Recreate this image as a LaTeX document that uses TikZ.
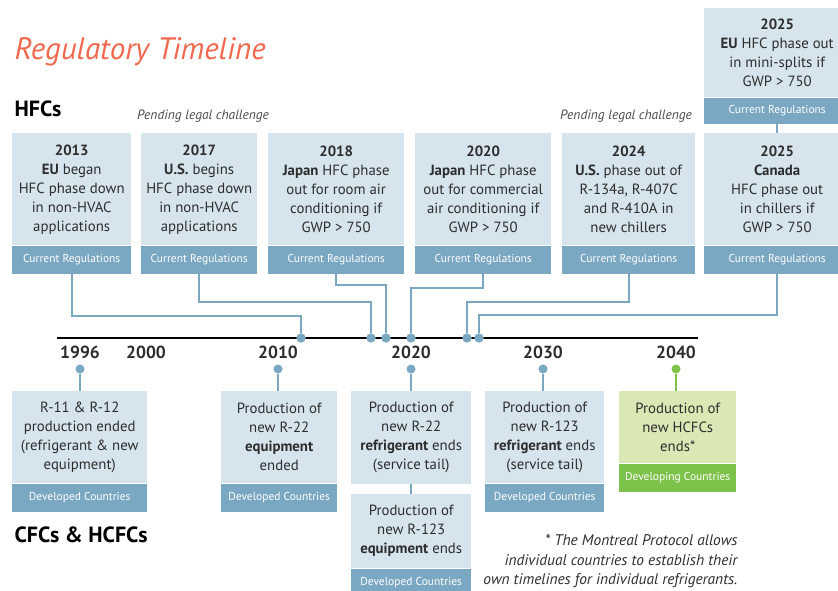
\documentclass[tikz,border=0pt]{standalone}
\usepackage{fontspec}
\setmainfont{PT Sans}
\usetikzlibrary{positioning}

\definecolor{boxbg}{RGB}{214,228,238}
\definecolor{stripbg}{RGB}{122,167,194}
\definecolor{greenbg}{RGB}{217,232,180}
\definecolor{greenstrip}{RGB}{125,194,75}
\definecolor{titlecol}{RGB}{240,104,78}
\definecolor{txt}{RGB}{45,45,45}

\tikzset{
  lbox/.style={fill=boxbg, anchor=north west, align=center, inner sep=0pt, text=txt,
    font=\fontsize{14.8}{19}\selectfont},
  strip/.style={fill=stripbg, anchor=north, inner sep=0pt, minimum height=28, text=white,
    font=\fontsize{11.5}{13}\selectfont},
  link/.style={draw=stripbg, line width=2},
  dot/.style={circle, fill=stripbg, inner sep=0pt, minimum size=9},
  yr/.style={font=\fontsize{17.5}{20}\selectfont\bfseries, text=txt},
  pend/.style={font=\fontsize{13.5}{15}\selectfont\itshape, text=txt!85},
  head/.style={anchor=west, font=\fontsize{22}{26}\selectfont\bfseries},
}

\begin{document}
\begin{tikzpicture}[x=1pt, y=-1pt]
  \useasboundingbox (0,0) rectangle (838,591);

  % titles
  \node[anchor=west, text=titlecol, font=\fontsize{31}{36}\selectfont\itshape] (title) at (11,52) {Regulatory Timeline};
  \node[head] (hfc) at (11,109) {HFCs};
  \node[head] (cfc) at (11,535) {CFCs \& HCFCs};
  \node[pend] (pend1) at (203,116) {Pending legal challenge};
  \node[pend] (pend2) at (626,116) {Pending legal challenge};

  % HFC boxes
  \node[lbox, minimum width=119, minimum height=112] (h2013) at (12,133)
    {\textbf{2013}\\\textbf{EU} began\\HFC phase down\\in non-HVAC\\applications};
  \node[strip, minimum width=119] (c2013) at (h2013.south) {Current Regulations};

  \node[lbox, minimum width=116, minimum height=112] (h2017) at (141,133)
    {\textbf{2017}\\\textbf{U.S.} begins\\HFC phase down\\in non-HVAC\\applications};
  \node[strip, minimum width=116] (c2017) at (h2017.south) {Current Regulations};

  \node[lbox, minimum width=136, minimum height=112] (h2018) at (268,133)
    {\textbf{2018}\\\textbf{Japan} HFC phase\\out for room air\\conditioning if\\GWP > 750};
  \node[strip, minimum width=136] (c2018) at (h2018.south) {Current Regulations};

  \node[lbox, minimum width=136, minimum height=112] (h2020) at (415,133)
    {\textbf{2020}\\\textbf{Japan} HFC phase\\out for commercial\\air conditioning if\\GWP > 750};
  \node[strip, minimum width=136] (c2020) at (h2020.south) {Current Regulations};

  \node[lbox, minimum width=133, minimum height=112] (h2024) at (562,133)
    {\textbf{2024}\\\textbf{U.S.} phase out of\\R-134a, R-407C\\and R-410A in\\new chillers};
  \node[strip, minimum width=133] (c2024) at (h2024.south) {Current Regulations};

  \node[lbox, minimum width=146, minimum height=112] (h2025c) at (704,133)
    {\textbf{2025}\\\textbf{Canada}\\HFC phase out\\in chillers if\\GWP > 750};
  \node[strip, minimum width=146] (c2025c) at (h2025c.south) {Current Regulations};

  \node[lbox, minimum width=146, minimum height=89] (h2025e) at (704,8)
    {\textbf{2025}\\\textbf{EU} HFC phase out\\in mini-splits if\\GWP > 750};
  \node[strip, minimum width=146, minimum height=26] (c2025e) at (h2025e.south) {Current Regulations};

  \draw[link] (c2025e) -- (h2025c);

  % timeline
  \coordinate (tl0) at (57,338);
  \coordinate (tl1) at (698,338);
  \draw[line width=2] (tl0) -- (tl1);

  \node[yr] (y1996) at (80,352) {1996};
  \node[yr] (y2000) at (146,352) {2000};
  \node[yr] (y2010) at (278,352) {2010};
  \node[yr] (y2020) at (411,352) {2020};
  \node[yr] (y2030) at (543,352) {2030};
  \node[yr] (y2040) at (676,352) {2040};

  % dots on the line
  \node[dot] (t1) at (301,338) {};
  \node[dot] (t2) at (371,338) {};
  \node[dot] (t3) at (386,338) {};
  \node[dot] (t4) at (411,338) {};
  \node[dot] (t5) at (467,338) {};
  \node[dot] (t6) at (479,338) {};

  \draw[link] (c2013.south) -- (c2013.south |- 0,316) -| (t1);
  \draw[link] (c2017.south) -- (c2017.south |- 0,302) -| (t2);
  \draw[link] (c2018.south) -- (c2018.south |- 0,285) -| (t3);
  \draw[link] (c2020.south) -- (c2020.south |- 0,288) -| (t4);
  \draw[link] (c2024.south) -- (c2024.south |- 0,302) -| (t5);
  \draw[link] (c2025c.south) -- (c2025c.south |- 0,315) -| (t6);
  \foreach \d in {t1,t2,t3,t4,t5,t6}
    \node[dot] at (\d) {};

  % CFC / HCFC boxes
  \node[lbox, minimum width=135, minimum height=92] (b1996) at (12,391)
    {R-11 \& R-12\\production ended\\(refrigerant \& new\\equipment)};
  \node[strip, minimum width=135] (s1996) at (b1996.south) {Developed Countries};

  \node[lbox, minimum width=116, minimum height=92] (b2010) at (221,391)
    {Production of\\new R-22\\\textbf{equipment}\\ended};
  \node[strip, minimum width=116] (s2010) at (b2010.south) {Developed Countries};

  \node[lbox, minimum width=120, minimum height=93] (b2020a) at (351,391)
    {Production of\\new R-22\\\textbf{refrigerant} ends\\(service tail)};
  \node[lbox, minimum width=120, minimum height=74] (b2020b) at (351,494)
    {Production of\\new R-123\\\textbf{equipment} ends};
  \node[strip, minimum width=120] (s2020) at (b2020b.south) {Developed Countries};

  \node[lbox, minimum width=119, minimum height=92] (b2030) at (485,391)
    {Production of\\new R-123\\\textbf{refrigerant} ends\\(service tail)};
  \node[strip, minimum width=119] (s2030) at (b2030.south) {Developed Countries};

  \node[lbox, fill=greenbg, minimum width=117, minimum height=72] (b2040) at (619,391)
    {Production of\\new HCFCs\\ends*};
  \node[strip, fill=greenstrip, minimum width=117] (s2040) at (b2040.south) {Developing Countries};

  \node[dot] (u1996) at (80,369) {};
  \node[dot] (u2010) at (278,369) {};
  \node[dot] (u2020) at (411,369) {};
  \node[dot] (u2030) at (543,369) {};
  \node[dot, fill=greenstrip] (u2040) at (676,369) {};

  \draw[link] (u1996) -- (u1996 |- b1996.north);
  \draw[link] (u2010) -- (u2010 |- b2010.north);
  \draw[link] (u2020) -- (u2020 |- b2020a.north);
  \draw[link] (u2030) -- (u2030 |- b2030.north);
  \draw[link, draw=greenstrip] (u2040) -- (u2040 |- b2040.north);
  \draw[link] (b2020a.south -| u2020) -- (b2020b.north -| u2020);

  % footnote
  \node[anchor=north east, align=right, text=txt, font=\fontsize{15.4}{19.5}\selectfont\itshape] (note) at (741,531)
    {* The Montreal Protocol allows\\individual countries to establish their\\own timelines for individual refrigerants.};
\end{tikzpicture}
\end{document}
